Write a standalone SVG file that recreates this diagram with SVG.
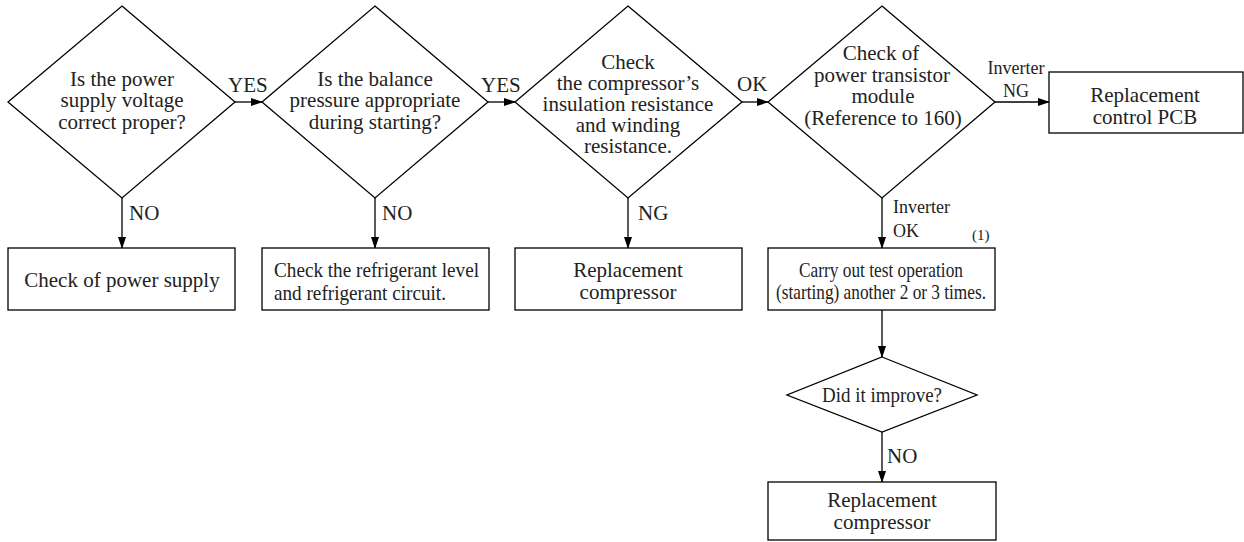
<svg xmlns="http://www.w3.org/2000/svg" width="1244" height="542" viewBox="0 0 1244 542">
<style>
.s{fill:#fff;stroke:#000;stroke-width:1.3}
.c{fill:none;stroke:#000;stroke-width:1.3}
text{font-family:"Liberation Serif","Times New Roman",serif;font-size:21px;fill:#222}
.m{text-anchor:middle}
.l{font-size:21px}
.sm{font-size:18px}
.xs{font-size:15px}
</style>
<defs>
<marker id="ah" markerWidth="12" markerHeight="10" refX="11" refY="4" orient="auto" markerUnits="userSpaceOnUse">
<path d="M0,0 L12,4 L0,8 Z" fill="#000"/>
</marker>
</defs>
<rect width="1244" height="542" fill="#fff"/>
<g id="connectors">
<line class="c" x1="235" y1="102" x2="262" y2="102" marker-end="url(#ah)"/>
<line class="c" x1="488" y1="102" x2="515" y2="102" marker-end="url(#ah)"/>
<line class="c" x1="742" y1="102" x2="768" y2="102" marker-end="url(#ah)"/>
<line class="c" x1="995" y1="102" x2="1049" y2="102" marker-end="url(#ah)"/>
<line class="c" x1="122" y1="198" x2="122" y2="248" marker-end="url(#ah)"/>
<line class="c" x1="375" y1="198" x2="375" y2="248" marker-end="url(#ah)"/>
<line class="c" x1="628" y1="198" x2="628" y2="248" marker-end="url(#ah)"/>
<line class="c" x1="882" y1="198" x2="882" y2="248" marker-end="url(#ah)"/>
<line class="c" x1="882" y1="310" x2="882" y2="357" marker-end="url(#ah)"/>
<line class="c" x1="882" y1="432" x2="882" y2="482" marker-end="url(#ah)"/>
<text x="228" y="92" class="l">YES</text>
<text x="481" y="92" class="l">YES</text>
<text x="737" y="91" class="l">OK</text>
<text x="1016" y="74" class="m sm">Inverter</text>
<text x="1016" y="97" class="m sm">NG</text>
<text x="129" y="220" class="l">NO</text>
<text x="382" y="220" class="l">NO</text>
<text x="638" y="220" class="l">NG</text>
<text x="893" y="213" class="sm">Inverter</text>
<text x="893" y="237" class="sm">OK</text>
<text x="887" y="463" class="l">NO</text>
</g>
<g id="d1">
<polygon class="s" points="122,6 235,102 122,198 8,102"/>
<text x="122" y="86" class="m">Is the power</text>
<text x="122" y="107" class="m">supply voltage</text>
<text x="122" y="129" class="m">correct proper?</text>
</g>
<g id="d2">
<polygon class="s" points="375,6 488,102 375,198 262,102"/>
<text x="375" y="86" class="m">Is the balance</text>
<text x="375" y="107" class="m">pressure appropriate</text>
<text x="375" y="129" class="m">during starting?</text>
</g>
<g id="d3">
<polygon class="s" points="628,6 742,102 628,198 515,102"/>
<text x="628" y="69" class="m">Check</text>
<text x="628" y="90" class="m">the compressor’s</text>
<text x="628" y="111" class="m">insulation resistance</text>
<text x="628" y="132" class="m">and winding</text>
<text x="628" y="153" class="m">resistance.</text>
</g>
<g id="d4">
<polygon class="s" points="882,6 995,102 882,198 768,102"/>
<text x="881" y="60" class="m">Check of</text>
<text x="882" y="82" class="m">power transistor</text>
<text x="883" y="103" class="m">module</text>
<text x="883" y="125" class="m">(Reference to 160)</text>
</g>
<g id="b1">
<rect class="s" x="8" y="248" width="227" height="62"/>
<text x="122" y="287" class="m">Check of power supply</text>
</g>
<g id="b2">
<rect class="s" x="262" y="248" width="227" height="62"/>
<text x="274" y="277" textLength="205" lengthAdjust="spacingAndGlyphs">Check the refrigerant level</text>
<text x="274" y="300" textLength="172" lengthAdjust="spacingAndGlyphs">and refrigerant circuit.</text>
</g>
<g id="b3">
<rect class="s" x="515" y="248" width="227" height="62"/>
<text x="628" y="277" class="m">Replacement</text>
<text x="628" y="299" class="m">compressor</text>
</g>
<g id="b4">
<rect class="s" x="768" y="248" width="227" height="62"/>
<text x="881" y="277" class="m" textLength="164" lengthAdjust="spacingAndGlyphs">Carry out test operation</text>
<text x="881" y="299" class="m" textLength="210" lengthAdjust="spacingAndGlyphs">(starting) another 2 or 3 times.</text>
<text x="972" y="240" class="xs">(1)</text>
</g>
<g id="b5">
<rect class="s" x="1049" y="72" width="194" height="61"/>
<text x="1145" y="102" class="m">Replacement</text>
<text x="1145" y="124" class="m">control PCB</text>
</g>
<g id="d5">
<polygon class="s" points="882,357 977,395 882,432 787,395"/>
<text x="882" y="402" class="m" textLength="120" lengthAdjust="spacingAndGlyphs">Did it improve?</text>
</g>
<g id="b6">
<rect class="s" x="768" y="482" width="228" height="58"/>
<text x="882" y="507" class="m">Replacement</text>
<text x="882" y="529" class="m">compressor</text>
</g>
</svg>
